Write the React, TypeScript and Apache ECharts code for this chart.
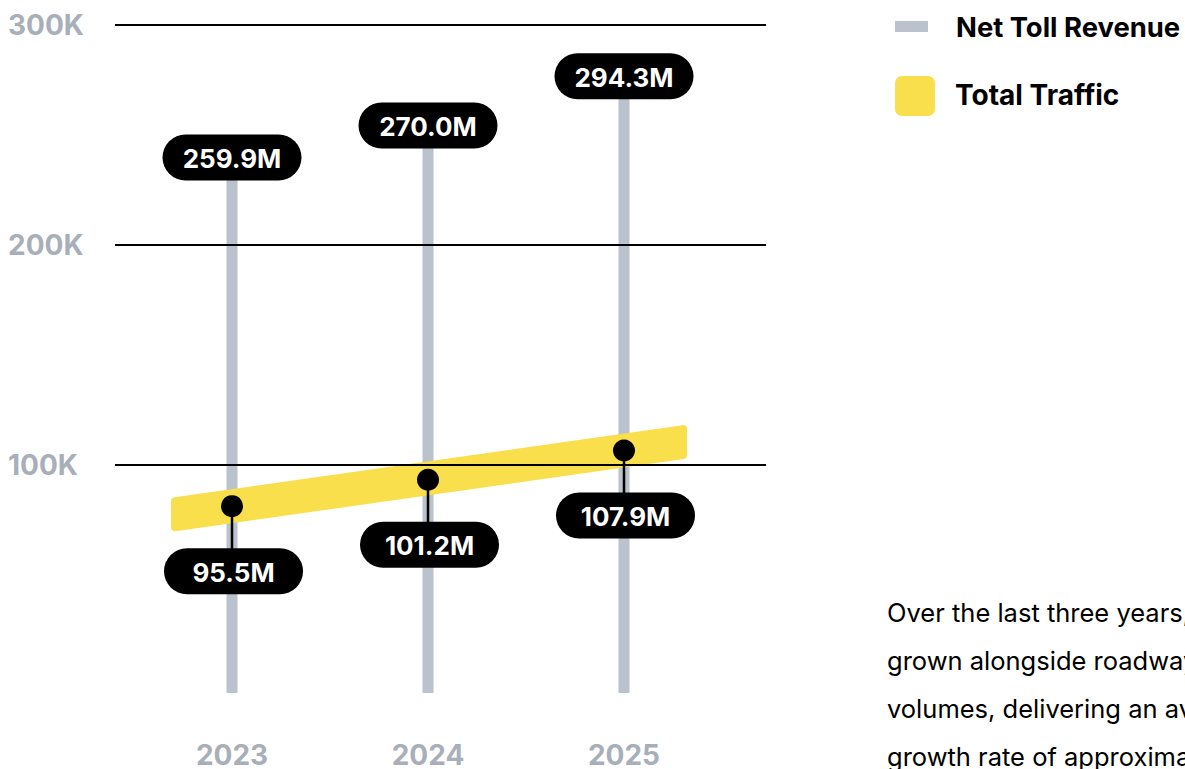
import React, { useEffect, useRef } from 'react';
import * as echarts from 'echarts';

// ---- data ----
const years = [2023, 2024, 2025];
const revenueLabels = [259.9, 270.0, 294.3]; // Net Toll Revenue, $M (pill labels)
const revenueBarLevel = [239.8, 254.3, 276.7]; // bar heights read on the axis (K)
const trafficLabels = [95.5, 101.2, 107.9]; // Total Traffic, M (pill labels)
const trafficLevel = [81.3, 93.3, 106.6]; // point heights read on the axis (K)
const yTicks = [0, 100, 200, 300];
const legendNames = ['Net Toll Revenue', 'Total Traffic'];
const noteLines = [
  'Over the last three years, Net Toll Revenue has',
  'grown alongside roadway traffic',
  'volumes, delivering an average annual',
  'growth rate of approximately 6.4%.',
];

const GRAY = '#BAC2CD';
const AXIS_GRAY = '#A8AFB9';
const YELLOW = '#F9DF4B';
const FONT = 'Inter, "Noto Sans", sans-serif';

export default function App() {
  const ref = useRef<HTMLDivElement>(null);

  useEffect(() => {
    if (!ref.current) return;
    const chart = echarts.init(ref.current, undefined, { renderer: 'svg' });

    const option: any = {
      animation: false,
      backgroundColor: '#fff',
      grid: { left: 115, right: 1185 - 766, top: 25, bottom: 769 - 688 },
      xAxis: {
        type: 'value',
        min: 2022.403,
        max: 2025.7245,
        axisLine: { show: false },
        axisTick: { show: false },
        splitLine: { show: false },
        axisLabel: {
          customValues: years,
          formatter: (v: number) => String(Math.round(v)),
          color: AXIS_GRAY,
          fontFamily: FONT,
          fontWeight: 'bold',
          fontSize: 28,
          margin: 56,
        },
      },
      yAxis: {
        type: 'value',
        min: yTicks[0],
        max: yTicks[yTicks.length - 1],
        interval: 100,
        z: 3,
        axisLine: { show: false },
        axisTick: { show: false },
        splitLine: {
          show: true,
          showMinLine: false,
          lineStyle: { color: '#000', width: 2.2 },
        },
        axisLabel: {
          formatter: (v: number) => (v === 0 ? '' : v + 'K'),
          color: AXIS_GRAY,
          fontFamily: FONT,
          fontWeight: 'bold',
          fontSize: 28,
          align: 'left',
          margin: 107,
        },
      },
      graphic: [
        { type: 'rect', shape: { x: 895, y: 21, width: 33, height: 11 }, style: { fill: GRAY } },
        {
          type: 'text', x: 956, y: 27,
          style: { text: legendNames[0], fill: '#000', font: `bold 27.4px ${FONT}`, verticalAlign: 'middle' },
        },
        { type: 'rect', shape: { x: 895, y: 76, width: 40, height: 40, r: 7 }, style: { fill: YELLOW } },
        {
          type: 'text', x: 955, y: 95,
          style: { text: legendNames[1], fill: '#000', font: `bold 28px ${FONT}`, verticalAlign: 'middle' },
        },
        {
          type: 'text', x: 887, y: 588,
          style: {
            text: noteLines.join('\n'),
            fill: '#000',
            font: `25.5px ${FONT}`,
            lineHeight: 48,
            verticalAlign: 'top',
          },
        },
      ],
      series: [
        {
          name: legendNames[0],
          type: 'custom',
          z: 1,
          data: years.map((y, i) => [y, revenueBarLevel[i]]),
          renderItem: (params: any, api: any) => {
            const x = api.value(0);
            const v = api.value(1);
            const top = api.coord([x, v]);
            const base = api.coord([x, 0]);
            const label = revenueLabels[params.dataIndex].toFixed(1) + 'M';
            return {
              type: 'group',
              children: [
                {
                  type: 'rect',
                  shape: { x: top[0] - 5.5, y: top[1], width: 11, height: base[1] - top[1] + 8 },
                  style: { fill: GRAY },
                },
                {
                  type: 'rect',
                  shape: { x: top[0] - 69.5, y: top[1] - 23, width: 139, height: 46, r: 23 },
                  style: { fill: '#000' },
                },
                {
                  type: 'text',
                  x: top[0],
                  y: top[1] + 1,
                  style: {
                    text: label,
                    fill: '#fff',
                    font: `bold 26px ${FONT}`,
                    align: 'center',
                    verticalAlign: 'middle',
                  },
                },
              ],
            };
          },
        },
        {
          name: legendNames[1],
          type: 'custom',
          z: 2,
          data: years.map((y, i) => [y, trafficLevel[i]]),
          renderItem: (params: any, api: any) => {
            if (params.dataIndex !== 0) return null;
            const n = years.length;
            const p0 = api.coord([years[0], trafficLevel[0]]);
            const pn = api.coord([years[n - 1], trafficLevel[n - 1]]);
            const s = (pn[1] - p0[1]) / (pn[0] - p0[0]);
            const extL = 61 - 4;
            const extR = 63 - 4;
            const half = 17 - 4;
            const lx = p0[0] - extL;
            const ly = p0[1] - s * extL;
            const rx = pn[0] + extR;
            const ry = pn[1] + s * extR;
            return {
              type: 'polygon',
              shape: {
                points: [
                  [lx, ly - half],
                  [rx, ry - half],
                  [rx, ry + half],
                  [lx, ly + half],
                ],
              },
              style: { fill: YELLOW, stroke: YELLOW, lineWidth: 8, lineJoin: 'round' },
            };
          },
        },
        {
          name: legendNames[1] + ' labels',
          type: 'custom',
          z: 5,
          data: years.map((y, i) => [y, trafficLevel[i]]),
          renderItem: (params: any, api: any) => {
            const c = api.coord([api.value(0), api.value(1)]);
            const off = 65;
            const label = trafficLabels[params.dataIndex].toFixed(1) + 'M';
            return {
              type: 'group',
              children: [
                {
                  type: 'line',
                  shape: { x1: c[0], y1: c[1], x2: c[0], y2: c[1] + off - 22 },
                  style: { stroke: '#000', lineWidth: 2.5 },
                },
                {
                  type: 'circle',
                  shape: { cx: c[0], cy: c[1], r: 11 },
                  style: { fill: '#000' },
                },
                {
                  type: 'rect',
                  shape: { x: c[0] + 1.5 - 69.5, y: c[1] + off - 23, width: 139, height: 46, r: 23 },
                  style: { fill: '#000' },
                },
                {
                  type: 'text',
                  x: c[0] + 1.5,
                  y: c[1] + off + 1,
                  style: {
                    text: label,
                    fill: '#fff',
                    font: `bold 26px ${FONT}`,
                    align: 'center',
                    verticalAlign: 'middle',
                  },
                },
              ],
            };
          },
        },
      ],
    };

    chart.setOption(option);
    return () => chart.dispose();
  }, []);

  return (
    <div
      ref={ref}
      style={{ position: 'absolute', left: 0, top: 0, width: 1185, height: 769, overflow: 'hidden' }}
    />
  );
}
